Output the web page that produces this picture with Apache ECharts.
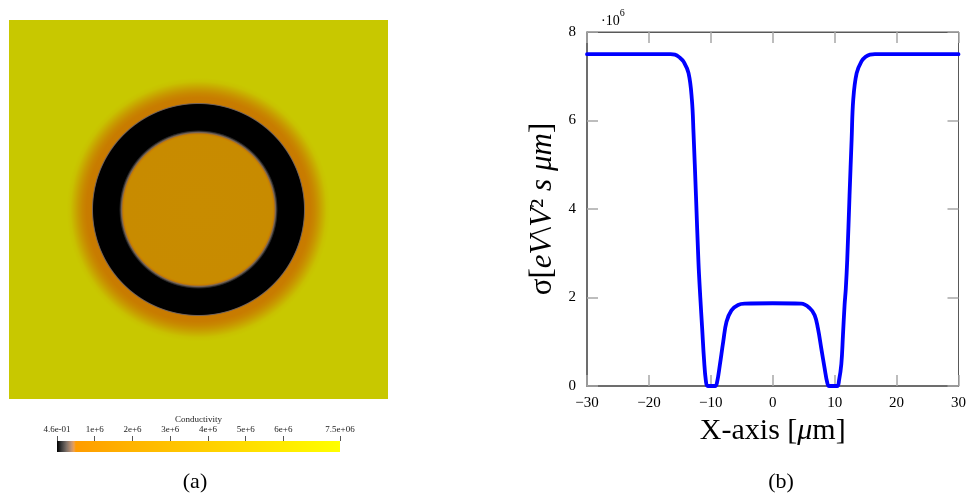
<!DOCTYPE html>
<html><head><meta charset="utf-8">
<script src="https://cdn.jsdelivr.net/npm/echarts@6/dist/echarts.min.js"></script>
<style>html,body{margin:0;padding:0;background:#fff}#c{width:969px;height:497px}</style>
</head><body><div id="c"></div><script>
// ---- Panel (b): sigma along the X axis (um, S units) ----
const xPos = [-30,-20,-16.5,-15.8,-15.0,-14.4,-13.6,-13.06,-12.8,-12.4,-12.0,-11.7,-11.4,-11.1,-10.8,-10.5,-9.3,-9.0,-8.55,-8.0,-7.47,-6.67,-5.6,-4.5,0,4.6,5.97,6.77,7.3,7.85,8.39,8.8,9.1,10.4,10.7,11.08,11.34,11.6,11.8,12.03,12.4,12.74,13.0,13.55,14.35,15.0,15.7,16.5,20,30];
const sigma = [7.5e6,7.5e6,7.5e6,7.49e6,7.42e6,7.33e6,7.07e6,6.47e6,5.73e6,4.3e6,2.8e6,2.0e6,1.3e6,0.6e6,0.12e6,0,0,0.08e6,0.47e6,1.0e6,1.45e6,1.71e6,1.83e6,1.86e6,1.87e6,1.86e6,1.76e6,1.6e6,1.3e6,0.84e6,0.39e6,0.08e6,0,0,0.12e6,0.5e6,1.15e6,1.83e6,2.2e6,2.85e6,4.3e6,5.57e6,6.47e6,7.07e6,7.34e6,7.44e6,7.49e6,7.5e6,7.5e6,7.5e6];

// ---- Panel (a): radial conductivity profile of the 2D field ----
const imgRadius = [0,7.8,7.97,8.13,8.28,8.39,11.08,11.19,11.29,11.82,12.24,12.66,13.09,13.51,13.93,28.3];
const imgSigma  = [1.87e6,1.8e6,0.8e6,0.3e6,0.1e6,0,0,0.3e6,0.5e6,0.6e6,1.5e6,3.0e6,5.0e6,6.8e6,7.5e6,7.5e6];

// ---- Colour bar ----
const cbMin = 0.46, cbMax = 7.5e6;
const cbTickVals = [0.46,1e6,2e6,3e6,4e6,5e6,6e6,7.5e6];
const cbTickLabels = ['4.6e-01','1e+6','2e+6','3e+6','4e+6','5e+6','6e+6','7.5e+06'];
const cmapVals = [0,0.12e6,0.25e6,0.38e6,0.45e6,0.5e6,2e6,7.5e6];
const cmapCols = ['#000000','#3c3c3c','#7c7068','#c49470','#eea050','#ff9c00','#ffb400','#ffff00'];
const SHADE = 0.785;

function hex2rgb(h){return [parseInt(h.slice(1,3),16),parseInt(h.slice(3,5),16),parseInt(h.slice(5,7),16)];}
function cmap(v, k){
  k = k || 1;
  let i = 0;
  while (i < cmapVals.length-2 && v > cmapVals[i+1]) i++;
  const a = cmapVals[i], b = cmapVals[i+1];
  let t = (v-a)/(b-a); t = Math.max(0, Math.min(1, t));
  const c0 = hex2rgb(cmapCols[i]), c1 = hex2rgb(cmapCols[i+1]);
  const c = c0.map((x,j)=>Math.round((x+(c1[j]-x)*t)*k));
  return 'rgb('+c[0]+','+c[1]+','+c[2]+')';
}

const ringData = [];
for (let i=0;i<imgRadius.length-1;i++) ringData.push([imgRadius[i],imgRadius[i+1],imgSigma[i],imgSigma[i+1]]);
const lineData = xPos.map((x,i)=>[x, sigma[i]]);

const serif = 'Liberation Serif';
const frameCol = '#595959', tickCol = '#a8a8a8';

const chart = echarts.init(document.getElementById('c'), null, {renderer:'canvas'});
chart.setOption({
  animation:false,
  backgroundColor:'#ffffff',
  title:[
    {text:'(a)', left:190, top:466, textAlign:'center', textStyle:{fontFamily:serif,fontSize:22,fontWeight:'normal',color:'#000'}},
    {text:'(b)', left:776, top:466, textAlign:'center', textStyle:{fontFamily:serif,fontSize:22,fontWeight:'normal',color:'#000'}},
    {text:'{a|·10}{b|6}', left:596, top:3, textStyle:{fontWeight:'normal', rich:{a:{fontFamily:serif,fontSize:14,fontWeight:'normal',color:'#000',lineHeight:20,verticalAlign:'bottom'},b:{fontFamily:serif,fontSize:10,fontWeight:'normal',color:'#000',lineHeight:20,verticalAlign:'top'}}}}
  ],
  grid:[
    {left:9, top:20, width:379, height:379, show:true, backgroundColor:cmap(7.5e6,SHADE), borderWidth:0},
    {left:57, top:441, width:283, height:11, show:false},
    {left:587, top:32, width:372, height:354, show:true, borderColor:frameCol, borderWidth:1}
  ],
  xAxis:[
    {gridIndex:0, type:'value', min:-20, max:20, show:false},
    {gridIndex:1, type:'value', min:cbMin, max:cbMax, position:'top',
      name:'Conductivity', nameLocation:'middle', nameGap:17,
      nameTextStyle:{fontFamily:serif, fontSize:9, color:'#222'},
      axisLine:{show:false, onZero:false}, splitLine:{show:false},
      axisTick:{show:true, length:5, customValues:cbTickVals, lineStyle:{color:'#555',width:1}},
      axisLabel:{margin:7, customValues:cbTickVals, fontFamily:serif, fontSize:9, color:'#222',
        formatter:(v)=>{for(let i=0;i<cbTickVals.length;i++){if(Math.abs(cbTickVals[i]-v)<1)return cbTickLabels[i];}return '';}}},
    {gridIndex:2, type:'value', min:-30, max:30, interval:10, position:'bottom',
      name:'{t|X-axis [}{i|μ}{t|m]}', nameLocation:'middle', nameGap:25,
      nameTextStyle:{rich:{t:{fontFamily:serif,fontSize:30,color:'#000'},i:{fontFamily:serif,fontSize:30,fontStyle:'italic',color:'#000'}}},
      axisLine:{show:true, onZero:false, lineStyle:{color:frameCol,width:1.5}},
      axisTick:{show:true, inside:true, length:11, lineStyle:{color:tickCol,width:1.5}},
      splitLine:{show:false},
      axisLabel:{margin:10, fontFamily:serif, fontSize:15, color:'#000', formatter:(v)=> v<0 ? '\u2212'+Math.abs(v) : String(v)}},
    {gridIndex:2, type:'value', min:-30, max:30, interval:10, position:'top',
      axisLine:{show:true, onZero:false, lineStyle:{color:frameCol,width:1}},
      axisTick:{show:true, inside:true, length:11, lineStyle:{color:tickCol,width:1.5}},
      axisLabel:{show:false}, splitLine:{show:false}}
  ],
  yAxis:[
    {gridIndex:0, type:'value', min:-20, max:20, show:false},
    {gridIndex:1, type:'value', min:0, max:1, show:false},
    {gridIndex:2, type:'value', min:0, max:8e6, interval:2e6, position:'left',
      name:'{n|σ[}{i|eV}{n|\\}{i|V}{n|²}{i| s μm}{n|]}', nameLocation:'middle', nameGap:29,
      nameTextStyle:{rich:{n:{fontFamily:serif,fontSize:31,color:'#000'},i:{fontFamily:serif,fontSize:31,fontStyle:'italic',color:'#000'}}},
      axisLine:{show:true, onZero:false, lineStyle:{color:frameCol,width:1.5}},
      axisTick:{show:true, inside:true, length:11, lineStyle:{color:tickCol,width:1.5}},
      splitLine:{show:false},
      axisLabel:{margin:11, fontFamily:serif, fontSize:15, color:'#000', formatter:(v)=>String(Math.round(v/1e6))}},
    {gridIndex:2, type:'value', min:0, max:8e6, interval:2e6, position:'right',
      axisLine:{show:true, onZero:false, lineStyle:{color:frameCol,width:1}},
      axisTick:{show:true, inside:true, length:11, lineStyle:{color:tickCol,width:1.5}},
      axisLabel:{show:false}, splitLine:{show:false}}
  ],
  series:[
    {type:'custom', xAxisIndex:0, yAxisIndex:0, clip:true, data:ringData, silent:true,
      renderItem:(params, api)=>{
        const c = api.coord([0,0]);
        const r0 = api.size([api.value(0),0])[0];
        const r1 = api.size([api.value(1),0])[0];
        return {type:'circle', z2: 200 - params.dataIndex,
          shape:{cx:c[0], cy:c[1], r:r1},
          style:{fill:{type:'radial', x:c[0], y:c[1], r:r1, global:true,
            colorStops:[{offset:r0/r1, color:cmap(api.value(2),SHADE)},{offset:1, color:cmap(api.value(3),SHADE)}]}}};
      }},
    {type:'custom', xAxisIndex:1, yAxisIndex:1, data:[[cbMin, cbMax]], silent:true,
      renderItem:(params, api)=>{
        const p0 = api.coord([api.value(0),0]);
        const p1 = api.coord([api.value(1),1]);
        const stops = cmapVals.map((v,i)=>({offset:Math.max(0,(v-cbMin)/(cbMax-cbMin)), color:cmapCols[i]}));
        return {type:'rect', shape:{x:p0[0], y:p1[1], width:p1[0]-p0[0], height:p0[1]-p1[1]},
          style:{fill:{type:'linear', x:0, y:0, x2:1, y2:0, colorStops:stops}}};
      }},
    {type:'line', xAxisIndex:2, yAxisIndex:2, data:lineData, showSymbol:false, smooth:0.4,
      lineStyle:{color:'#0000ff', width:3.8, join:'round', cap:'round'}, clip:false, z:5}
  ]
});
</script></body></html>
